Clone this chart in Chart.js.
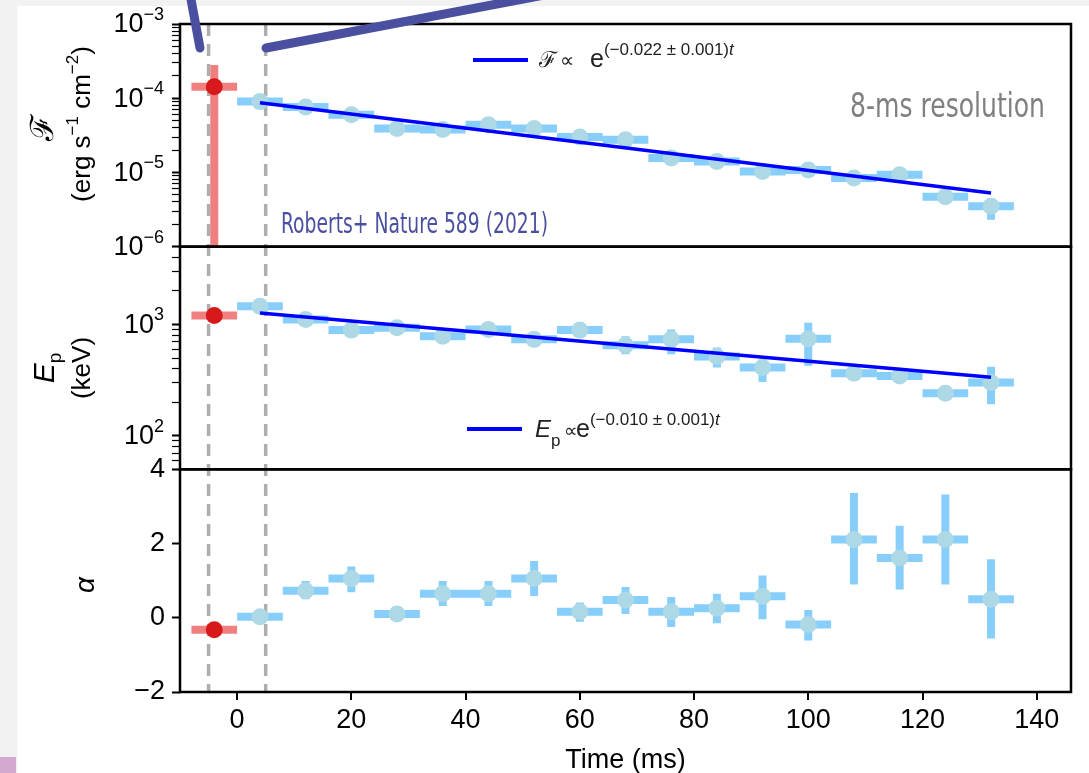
<!DOCTYPE html>
<html>
<head>
<meta charset="utf-8">
<script src="https://cdn.jsdelivr.net/npm/chart.js@4.4.1/dist/chart.umd.min.js"></script>
<style>
  html, body { margin: 0; padding: 0; background: #f2f2f2; overflow: hidden; }
  #wrap { position: relative; width: 1089px; height: 773px; }
</style>
</head>
<body>
<div id="wrap"><canvas id="chart"></canvas></div>
<script>
// bin centres (ms), 8 ms bins
const times = [4, 12, 20, 28, 36, 44, 52, 60, 68, 76, 84, 92, 100, 108, 116, 124, 132];
const binHalf = 4;
const preTime = -4;

// energy flux (erg s^-1 cm^-2)
const flux   = [9.0e-5, 7.6e-5, 6.0e-5, 3.9e-5, 3.8e-5, 4.4e-5, 3.9e-5, 3.0e-5, 2.75e-5, 1.56e-5, 1.40e-5, 1.03e-5, 1.08e-5, 8.4e-6, 9.3e-6, 4.7e-6, 3.5e-6];
const fluxLo = [8.5e-5, 7.2e-5, 5.7e-5, 3.7e-5, 3.6e-5, 4.2e-5, 3.7e-5, 2.85e-5, 2.6e-5, 1.48e-5, 1.33e-5, 9.7e-6, 1.02e-5, 7.9e-6, 8.8e-6, 4.4e-6, 2.3e-6];
const fluxHi = [9.5e-5, 8.0e-5, 6.3e-5, 4.1e-5, 4.0e-5, 4.6e-5, 4.1e-5, 3.15e-5, 2.9e-5, 1.64e-5, 1.47e-5, 1.09e-5, 1.14e-5, 8.9e-6, 9.8e-6, 5.0e-6, 4.5e-6];
const preFlux = 1.43e-4, preFluxLo = 1e-6, preFluxHi = 2.8e-4;

// peak energy (keV)
const ep   = [1460, 1110, 890, 935, 785, 900, 735, 890, 650, 735, 515, 410, 745, 365, 345, 241, 301];
const epLo = [1390, 1060, 850, 890, 745, 855, 700, 850, 540, 540, 410, 305, 425, 345, 328, 230, 192];
const epHi = [1530, 1160, 930, 980, 825, 945, 770, 930, 785, 900, 620, 485, 1035, 385, 362, 252, 418];
const preEp = 1205;

// low-energy index alpha
const alpha   = [0.03, 0.73, 1.06, 0.10, 0.65, 0.65, 1.06, 0.16, 0.48, 0.16, 0.26, 0.58, -0.18, 2.11, 1.61, 2.11, 0.50];
const alphaLo = [-0.02, 0.50, 0.69, 0.05, 0.32, 0.32, 0.59, -0.11, 0.10, -0.25, -0.15, -0.04, -0.61, 0.90, 0.76, 0.90, -0.56];
const alphaHi = [0.08, 0.99, 1.38, 0.15, 0.99, 0.99, 1.53, 0.41, 0.83, 0.56, 0.65, 1.14, 0.21, 3.36, 2.48, 3.32, 1.58];
const preAlpha = -0.32;

// exponential fits (end points)
const fitTimes = [4, 132];
const fluxFit = [8.7e-5, 5.3e-6];
const epFit = [1270, 335];

const dashTimes = [-5, 5];

// axis ticks
const timeTicks = [0, 20, 40, 60, 80, 100, 120, 140];
const fluxTickValues = [1e-6, 1e-5, 1e-4, 1e-3];
const fluxTickExps = ['−6', '−5', '−4', '−3'];
const epTickValues = [100, 1000];
const epTickExps = ['2', '3'];
const alphaTickValues = [-2, 0, 2, 4];
const alphaTickLabels = ['−2', '0', '2', '4'];

const FONT = '"Liberation Sans", Arial, Helvetica, sans-serif';
const NARROW = '"Liberation Sans Narrow", "DejaVu Sans Condensed", "Liberation Sans", sans-serif';
const BAR_BLUE = '#87cefa';
const DOT_BLUE = '#add8e6';
const BAR_RED = '#f08080';
const DOT_RED = '#d7191c';
const FIT_BLUE = '#0000ff';
const TICK_SIZE = 27;

function hBars(ts, vals) {
  const out = [];
  ts.forEach((t, i) => {
    out.push({x: t - binHalf, y: vals[i]}, {x: t + binHalf, y: vals[i]}, {x: t, y: null});
  });
  return out;
}
function vBars(ts, lo, hi) {
  const out = [];
  ts.forEach((t, i) => {
    out.push({x: t, y: lo[i]}, {x: t, y: hi[i]}, {x: t, y: null});
  });
  return out;
}
function points(ts, vals) {
  return ts.map((t, i) => ({x: t, y: vals[i]}));
}

function barSet(data, color, axis) {
  return {
    data, yAxisID: axis, borderColor: color, borderWidth: 8, borderCapStyle: 'butt',
    pointRadius: 0, spanGaps: false, fill: false, tension: 0, order: 3
  };
}
function dotSet(data, color, axis) {
  return {
    data, yAxisID: axis, showLine: false, pointRadius: 8.5, pointHoverRadius: 8.5,
    pointBackgroundColor: color, pointBorderWidth: 0, order: 2
  };
}
function fitSet(data, axis) {
  return {
    data, yAxisID: axis, borderColor: FIT_BLUE, borderWidth: 3.5, pointRadius: 0,
    fill: false, tension: 0, order: 1
  };
}

const datasets = [
  // flux
  barSet(hBars(times, flux), BAR_BLUE, 'yF'),
  barSet(vBars(times, fluxLo, fluxHi), BAR_BLUE, 'yF'),
  barSet(hBars([preTime], [preFlux]), BAR_RED, 'yF'),
  barSet(vBars([preTime], [preFluxLo], [preFluxHi]), BAR_RED, 'yF'),
  dotSet(points(times, flux), DOT_BLUE, 'yF'),
  dotSet(points([preTime], [preFlux]), DOT_RED, 'yF'),
  fitSet(points(fitTimes, fluxFit), 'yF'),
  // peak energy
  barSet(hBars(times, ep), BAR_BLUE, 'yE'),
  barSet(vBars(times, epLo, epHi), BAR_BLUE, 'yE'),
  barSet(hBars([preTime], [preEp]), BAR_RED, 'yE'),
  dotSet(points(times, ep), DOT_BLUE, 'yE'),
  dotSet(points([preTime], [preEp]), DOT_RED, 'yE'),
  fitSet(points(fitTimes, epFit), 'yE'),
  // alpha
  barSet(hBars(times, alpha), BAR_BLUE, 'yA'),
  barSet(vBars(times, alphaLo, alphaHi), BAR_BLUE, 'yA'),
  barSet(hBars([preTime], [preAlpha]), BAR_RED, 'yA'),
  dotSet(points(times, alpha), DOT_BLUE, 'yA'),
  dotSet(points([preTime], [preAlpha]), DOT_RED, 'yA')
];

function logTicks(min, max) {
  const out = [];
  for (let e = Math.floor(Math.log10(min)); e <= Math.ceil(Math.log10(max)); e++) {
    for (let k = 1; k < 10; k++) {
      const v = k * Math.pow(10, e);
      if (v >= min * 0.999 && v <= max * 1.001) out.push({value: v});
    }
  }
  return out;
}
function findTick(values, v) {
  return values.findIndex(t => Math.abs(t - v) <= Math.abs(t || 1) * 1e-6);
}
function yAxis(values, labels, extra) {
  return Object.assign({
    position: 'left', stack: 'panels', stackWeight: 1, offset: false,
    border: {display: false},
    grid: {
      drawOnChartArea: false, drawTicks: true, tickLength: 8, color: '#000',
      tickColor: '#000',
      tickWidth: c => (findTick(values, c.tick.value) >= 0 ? 2 : 1.2)
    },
    ticks: {
      autoSkip: false, color: '#000', padding: 7,
      font: {family: FONT, size: TICK_SIZE},
      // log axes get their power-of-ten labels drawn by the plugin
      callback: v => { const i = findTick(values, v); return (labels && i >= 0) ? labels[i] : ''; }
    },
    afterFit: s => { s.width = 180; }
  }, extra);
}

// text helpers
function fontOf(p) {
  return (p.italic ? 'italic ' : '') + p.size + 'px ' + (p.family || FONT);
}
function richWidth(ctx, parts) {
  let w = 0;
  parts.forEach(p => { ctx.font = fontOf(p); w += ctx.measureText(p.t).width; });
  return w;
}
function drawRich(ctx, parts, x, y) {
  parts.forEach(p => {
    ctx.font = fontOf(p);
    const px = p.x !== undefined ? p.x : x;
    ctx.fillText(p.t, px, y + (p.dy || 0));
    x = px + ctx.measureText(p.t).width;
  });
}
function drawRotated(ctx, parts, cx, cy) {
  ctx.save();
  ctx.translate(cx, cy);
  ctx.rotate(-Math.PI / 2);
  ctx.textBaseline = 'middle';
  drawRich(ctx, parts, -richWidth(ctx, parts) / 2, 0);
  ctx.restore();
}
function drawNarrow(ctx, text, size, color, left, right, baseline) {
  ctx.save();
  ctx.font = size + 'px ' + NARROW;
  const w = ctx.measureText(text).width;
  ctx.translate(left, baseline);
  ctx.scale((right - left) / w, 1);
  ctx.fillStyle = color;
  ctx.textBaseline = 'alphabetic';
  ctx.fillText(text, 0, 0);
  ctx.restore();
}
function drawPowLabels(ctx, scale, values, exps, right) {
  ctx.save();
  ctx.fillStyle = '#000';
  ctx.textBaseline = 'middle';
  values.forEach((v, i) => {
    const y = scale.getPixelForValue(v);
    const parts = [{t: '10', size: TICK_SIZE}, {t: exps[i], size: 18, dy: -10}];
    drawRich(ctx, parts, right - richWidth(ctx, parts), y + 1);
  });
  ctx.restore();
}

const decor = {
  id: 'decor',
  beforeDraw(chart) {
    const ctx = chart.ctx;
    ctx.save();
    ctx.fillStyle = '#f2f2f2';
    ctx.fillRect(0, 0, chart.width, chart.height);
    ctx.fillStyle = '#ffffff';
    ctx.fillRect(17, 6, chart.width - 17, chart.height - 6);
    ctx.fillStyle = '#d3a9d2';
    ctx.fillRect(0, 757, 16, chart.height - 757);
    ctx.restore();
  },
  beforeDatasetsDraw(chart) {
    const {ctx, chartArea, scales} = chart;
    ctx.save();
    ctx.strokeStyle = 'rgba(165,165,165,0.9)';
    ctx.lineWidth = 3.5;
    ctx.setLineDash([12, 8]);
    dashTimes.forEach(t => {
      const x = scales.x.getPixelForValue(t);
      ctx.beginPath();
      ctx.moveTo(x, chartArea.top);
      ctx.lineTo(x, chartArea.bottom);
      ctx.stroke();
    });
    ctx.restore();
  },
  afterDraw(chart) {
    const {ctx, chartArea, scales} = chart;
    ctx.save();
    // panel frames
    ctx.strokeStyle = '#000';
    ctx.lineWidth = 2.5;
    ['yF', 'yE', 'yA'].forEach(id => {
      const s = scales[id];
      ctx.strokeRect(chartArea.left, s.top, chartArea.right - chartArea.left, s.bottom - s.top);
    });

    // power-of-ten tick labels
    drawPowLabels(ctx, scales.yF, fluxTickValues, fluxTickExps, 164);
    drawPowLabels(ctx, scales.yE, epTickValues, epTickExps, 164);

    // y-axis titles
    ctx.fillStyle = '#000';
    drawRotated(ctx, [{t: 'ℱ', size: 32}], 44, 128);
    drawRotated(ctx, [
      {t: '(erg s', size: 26}, {t: '−1', size: 17, dy: -10},
      {t: ' cm', size: 26}, {t: '−2', size: 17, dy: -10}, {t: ')', size: 26}
    ], 83, 124);
    drawRotated(ctx, [{t: 'E', size: 30, italic: true}, {t: 'p', size: 19, dy: 10}], 46, 368);
    drawRotated(ctx, [{t: '(keV)', size: 26}], 83, 368);
    drawRotated(ctx, [{t: 'α', size: 28, italic: true}], 86, 585);

    // legend entries
    ctx.strokeStyle = FIT_BLUE;
    ctx.lineWidth = 4;
    ctx.beginPath(); ctx.moveTo(473, 60); ctx.lineTo(528, 60); ctx.stroke();
    ctx.beginPath(); ctx.moveTo(467, 429); ctx.lineTo(522, 429); ctx.stroke();
    ctx.fillStyle = '#222';
    ctx.textBaseline = 'alphabetic';
    drawRich(ctx, [
      {t: 'ℱ', size: 22, x: 539}, {t: '∝', size: 20, x: 560},
      {t: 'e', size: 25, x: 590}, {t: '(−0.022 ± 0.001)', size: 17, dy: -12}, {t: 't', size: 17, italic: true, dy: -12}
    ], 539, 67);
    drawRich(ctx, [
      {t: 'E', size: 24, italic: true, x: 535}, {t: 'p', size: 17, dy: 9},
      {t: '∝', size: 19, x: 564}, {t: 'e', size: 25, x: 576},
      {t: '(−0.010 ± 0.001)', size: 17, dy: -12}, {t: 't', size: 17, italic: true, dy: -12}
    ], 535, 437);

    // annotations
    drawNarrow(ctx, '8-ms resolution', 34, '#808080', 850, 1045, 117);
    drawNarrow(ctx, 'Roberts+ Nature 589 (2021)', 28, '#4b4f9f', 281, 548, 233);

    // overlay pointer strokes
    ctx.strokeStyle = '#4a4fa0';
    ctx.lineWidth = 9;
    ctx.lineCap = 'round';
    ctx.beginPath(); ctx.moveTo(190, -6); ctx.lineTo(200, 48); ctx.stroke();
    ctx.beginPath(); ctx.moveTo(266, 48); ctx.lineTo(560, -8); ctx.stroke();
    ctx.restore();
  }
};

new Chart(document.getElementById('chart'), {
  type: 'line',
  data: {datasets},
  plugins: [decor],
  options: {
    responsive: true,
    maintainAspectRatio: false,
    animation: false,
    events: [],
    layout: {padding: {top: 24, right: 18, left: 0, bottom: 0}},
    plugins: {legend: {display: false}, tooltip: {enabled: false}},
    scales: {
      x: {
        type: 'linear', position: 'bottom', min: -10, max: 146,
        afterBuildTicks: s => { s.ticks = timeTicks.map(v => ({value: v})); },
        border: {display: false},
        grid: {drawOnChartArea: false, drawTicks: true, tickLength: 8, color: '#000', lineWidth: 2},
        ticks: {autoSkip: false, maxRotation: 0, color: '#000', padding: 4, font: {family: FONT, size: TICK_SIZE}},
        title: {display: true, text: 'Time (ms)', color: '#000', font: {family: FONT, size: 27}, padding: {top: 0, bottom: -4}},
        afterFit: s => { s.height = 81; }
      },
      yA: yAxis(alphaTickValues, alphaTickLabels, {
        type: 'linear', min: -2, max: 4,
        afterBuildTicks: s => { s.ticks = alphaTickValues.map(v => ({value: v})); }
      }),
      yE: yAxis(epTickValues, null, {
        type: 'logarithmic', min: 50, max: 5000,
        afterBuildTicks: s => { s.ticks = logTicks(50, 5000); }
      }),
      yF: yAxis(fluxTickValues, null, {
        type: 'logarithmic', min: 1e-6, max: 1e-3,
        afterBuildTicks: s => { s.ticks = logTicks(1e-6, 1e-3); }
      })
    }
  }
});
</script>
</body>
</html>
